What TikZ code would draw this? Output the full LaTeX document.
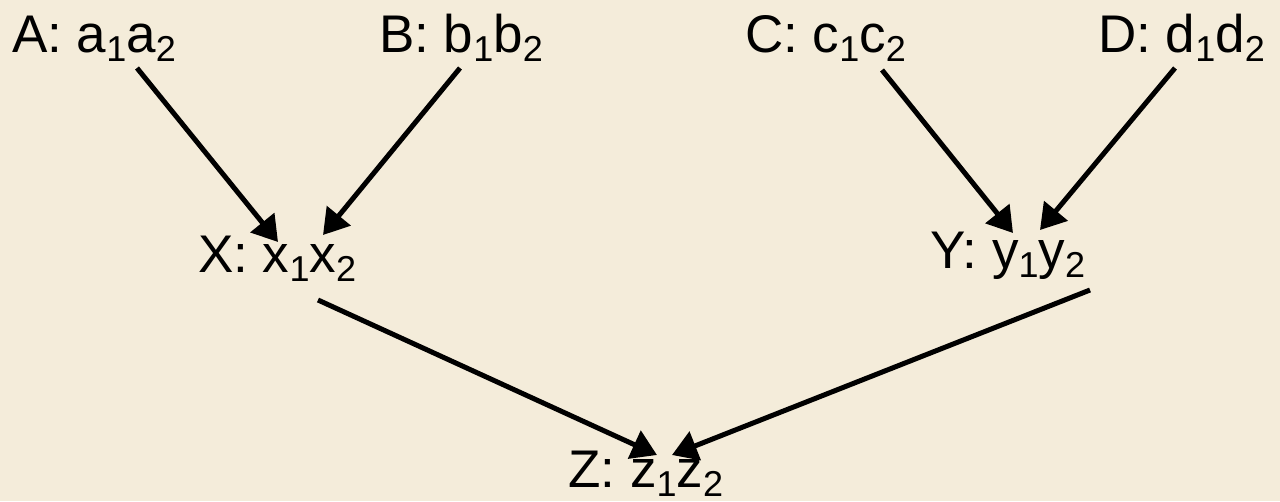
\documentclass[tikz,border=0pt]{standalone}
\usepackage{fontspec}
\setmainfont{Liberation Sans}
\usetikzlibrary{arrows.meta,calc}
\definecolor{bg}{HTML}{F4ECDA}
\newcommand\lo[1]{\raisebox{-9pt}{\fontsize{36}{36}\selectfont #1}}
\begin{document}
\begin{tikzpicture}[x=1pt,y=-1pt,
  lbl/.style={anchor=base west,inner sep=0pt,font=\fontsize{53}{53}\selectfont},
  arr/.style={line width=5pt,-{Triangle[length=25pt,width=30pt]}}]
\fill[bg] (0,0) rectangle (1280,501);
\useasboundingbox (0,0) rectangle (1280,501);
\node[lbl] (A) at (12,52) {A: a\lo{1}a\lo{2}};
\node[lbl] (B) at (379,52) {B: b\lo{1}b\lo{2}};
\node[lbl] (C) at (745,52) {C: c\lo{1}c\lo{2}};
\node[lbl] (D) at (1098,52) {D: d\lo{1}d\lo{2}};
\node[lbl] (X) at (198,272) {X: x\lo{1}x\lo{2}};
\node[lbl] (Y) at (930,268) {Y: y\lo{1}y\lo{2}};
\node[lbl] (Z) at (568,487) {Z: z\lo{1}z\lo{2}};
\draw[arr] ($(A.base west)+(125,16)$) -- ($(X.base west)+(80,-30)$);
\draw[arr] ($(B.base west)+(81,16)$) -- ($(X.base west)+(125,-37)$);
\draw[arr] ($(C.base west)+(137,18)$) -- ($(Y.base west)+(83,-35)$);
\draw[arr] ($(D.base west)+(77,16)$) -- ($(Y.base west)+(110,-38)$);
\draw[arr] ($(X.base west)+(120,28)$) -- ($(Z.base west)+(89,-32)$);
\draw[arr] ($(Y.base west)+(160,22)$) -- ($(Z.base west)+(104,-32)$);
\end{tikzpicture}
\end{document}
